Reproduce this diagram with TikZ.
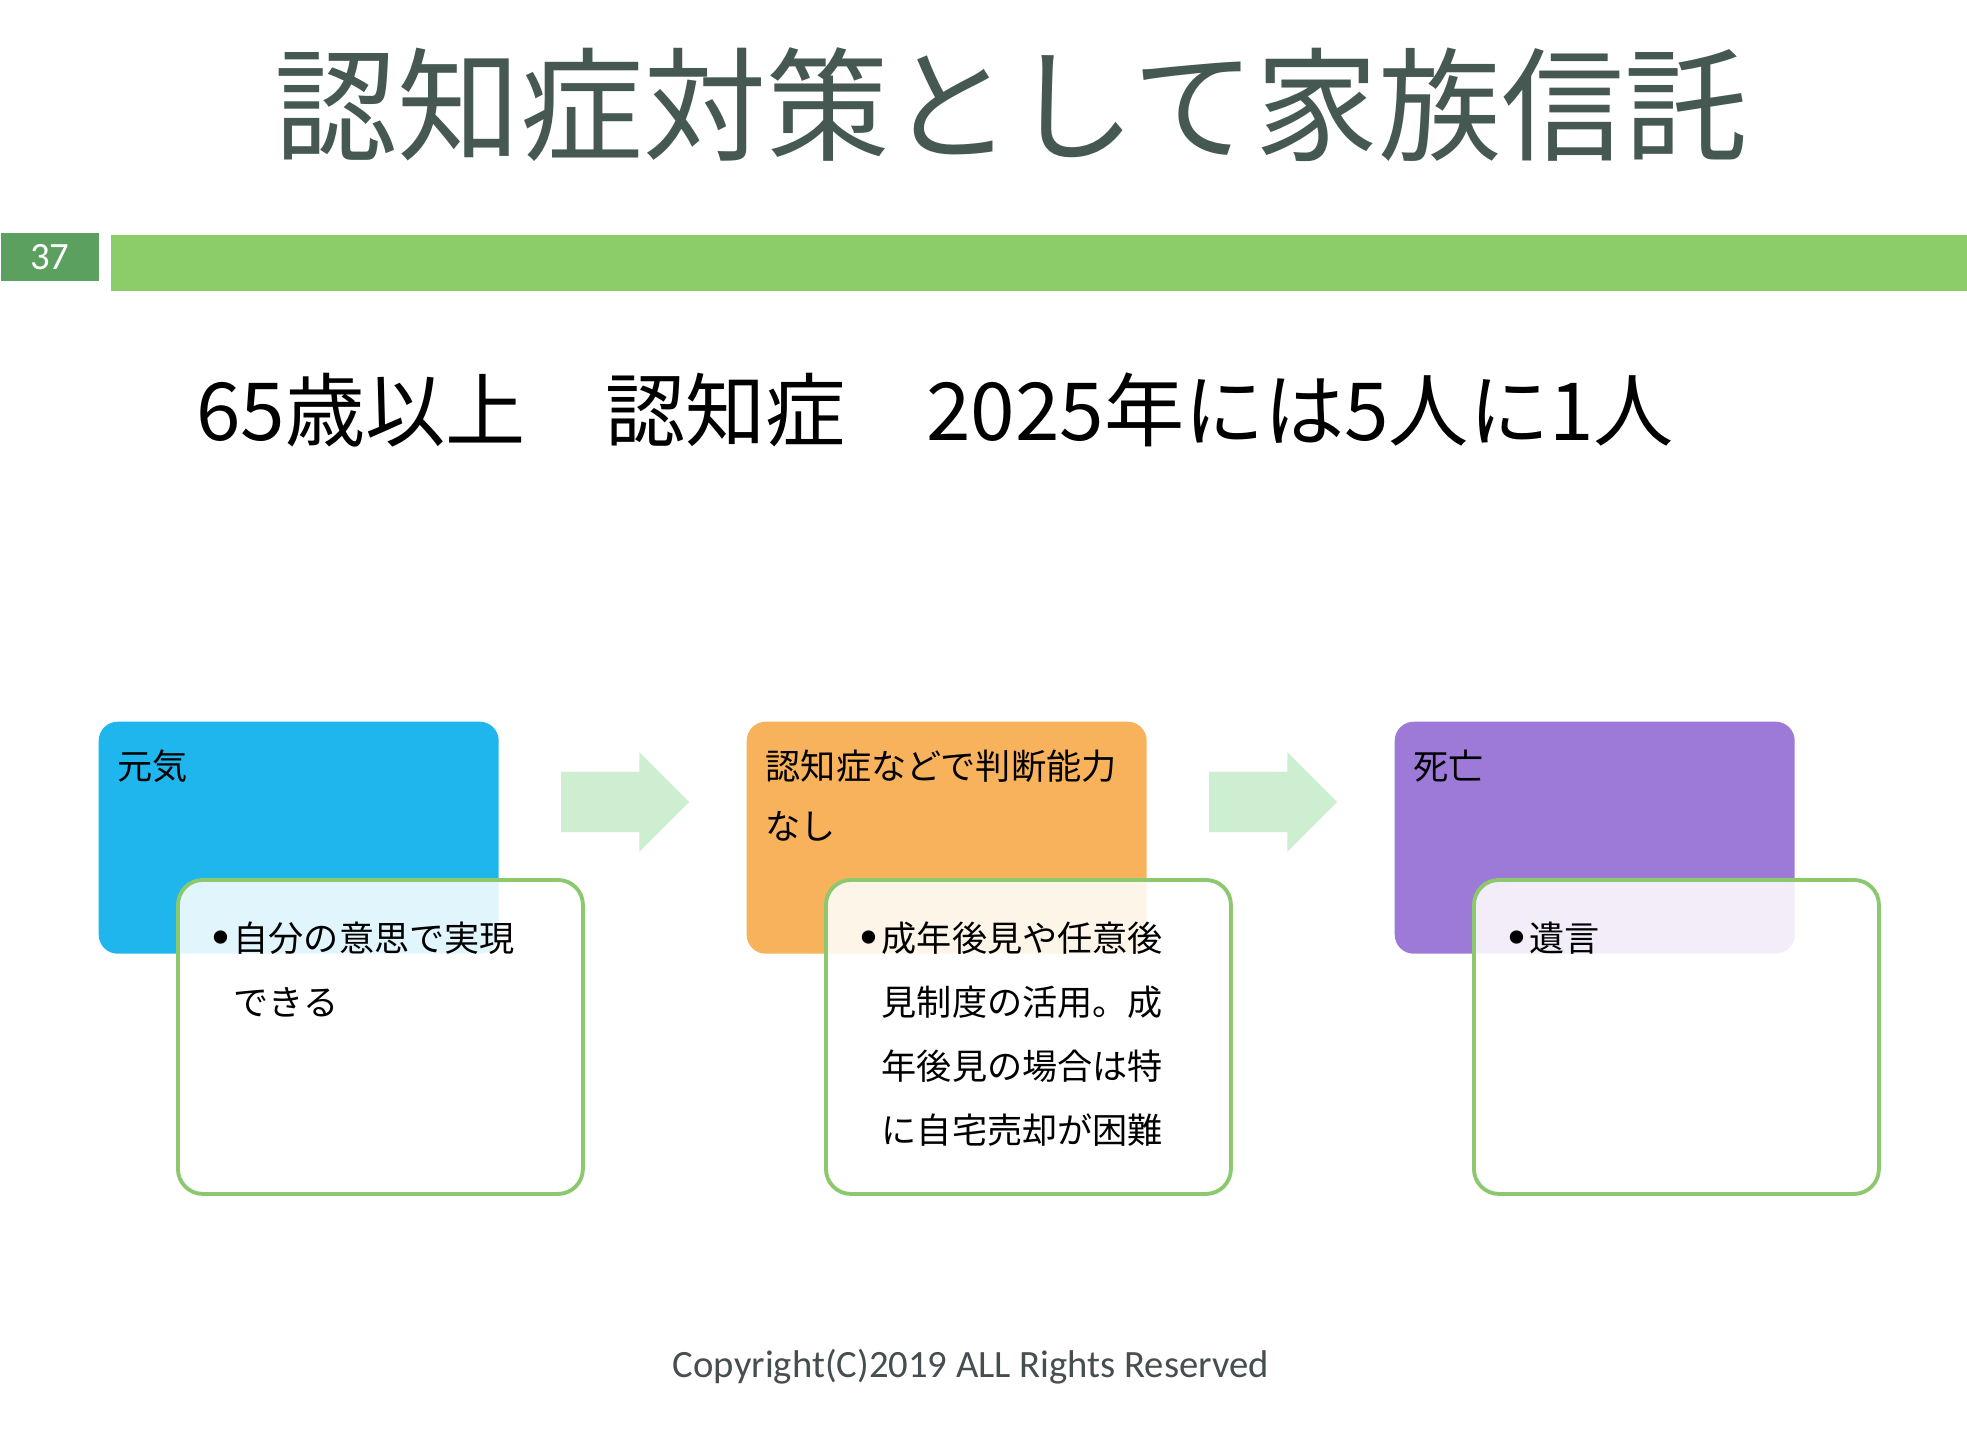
\documentclass[tikz,border=0pt]{standalone}
\usepackage{fontspec}
\setmainfont{Noto Sans CJK JP}
\newfontfamily\latinfont{Carlito}
\newfontfamily\dotfont{DejaVu Sans}
\usetikzlibrary{positioning, shapes.arrows}

\definecolor{titlegray}{RGB}{70,88,82}
\definecolor{pagegreen}{RGB}{92,160,95}
\definecolor{bargreen}{RGB}{140,205,105}
\definecolor{notegreen}{RGB}{140,200,110}
\definecolor{arrowgreen}{RGB}{205,238,208}
\definecolor{stageblue}{RGB}{30,182,237}
\definecolor{stageorange}{RGB}{249,178,92}
\definecolor{stagepurple}{RGB}{158,122,216}
\definecolor{copygray}{RGB}{70,78,80}

\newcommand{\notedot}{\makebox[2.6mm][l]{\raisebox{-0.8pt}{\dotfont\fontsize{13}{18.2}\selectfont •}}}

\begin{document}
\begin{tikzpicture}[x=0.1mm, y=-0.1mm,
	stage/.style={rectangle, rounded corners=1.9mm, minimum width=40mm, minimum height=23.2mm, inner sep=0, anchor=north west},
	note/.style={rectangle, draw=notegreen, line width=1.1pt, fill=white, fill opacity=0.87, rounded corners=2.5mm, minimum width=40.5mm, minimum height=31.4mm, inner sep=0, anchor=north west},
	flow/.style={single arrow, fill=arrowgreen, single arrow head extend=1.95mm, minimum width=9.8mm, minimum height=12.8mm, inner xsep=0, inner ysep=2.95mm},
	cardtext/.style={anchor=north west, inner sep=0, align=left, font=\fontsize{10}{17.2}\selectfont},
	notetext/.style={anchor=north west, inner sep=0, font=\fontsize{10}{18.2}\selectfont}]
		\useasboundingbox (0,0) rectangle (1967,1430);
		\fill[white] (0,0) rectangle (1967,1430);
		% heading
		\node[font=\fontsize{35}{40}\selectfont, text=titlegray, inner sep=0] (title) at (1011,105) {認知症対策として家族信託};
		\node[fill=pagegreen, minimum width=9.8mm, minimum height=4.8mm, inner sep=0, anchor=north west, text=white, font=\latinfont\fontsize{11}{12}\selectfont] (page) at (0,232) {37};
		\node[fill=bargreen, minimum width=185.7mm, minimum height=5.6mm, inner sep=0, anchor=north west] (bar) at (110,234) {};
		\node[font=\fontsize{22.8}{26}\selectfont, inner sep=0] (lead) at (935,410) {65歳以上　認知症　2025年には5人に1人};
		% stages
		\node[stage, fill=stageblue] (genki) at (98,721) {};
		\node[note] (genkinote) at ([shift={(78,157)}]genki.north west) {};
		\node[cardtext] (genkilabel) at ([shift={(19,28)}]genki.north west) {元気};
		\node[notetext] (genkitext) at ([shift={(31,28)}]genkinote.north west) {\begin{tabular}{@{}l@{}l@{}}\notedot & 自分の意思で実現\\ & できる\end{tabular}};
		\node[stage, fill=stageorange] (hannou) at (746,721) {};
		\node[note] (hannounote) at ([shift={(78,157)}]hannou.north west) {};
		\node[cardtext] (hannoulabel) at ([shift={(19,28)}]hannou.north west) {認知症などで判断能力\\なし};
		\node[notetext] (hannoutext) at ([shift={(31,28)}]hannounote.north west) {\begin{tabular}{@{}l@{}l@{}}\notedot & 成年後見や任意後\\ & 見制度の活用。成\\ & 年後見の場合は特\\ & に自宅売却が困難\end{tabular}};
		\node[stage, fill=stagepurple] (shibou) at (1394,721) {};
		\node[note] (shiboumote) at ([shift={(78,157)}]shibou.north west) {};
		\node[cardtext] (shiboulabel) at ([shift={(19,28)}]shibou.north west) {死亡};
		\node[notetext] (shiboutext) at ([shift={(31,28)}]shiboumote.north west) {\begin{tabular}{@{}l@{}l@{}}\notedot & 遺言\end{tabular}};
		% arrows
		\node[flow] (step1) at (610,802) {};
		\node[flow] (step2) at (1258,802) {};
		\node[font=\latinfont\fontsize{11}{13}\selectfont, text=copygray, inner sep=0] (copy) at (971,1367) {Copyright(C)2019 ALL Rights Reserved};
	\end{tikzpicture}
\end{document}
